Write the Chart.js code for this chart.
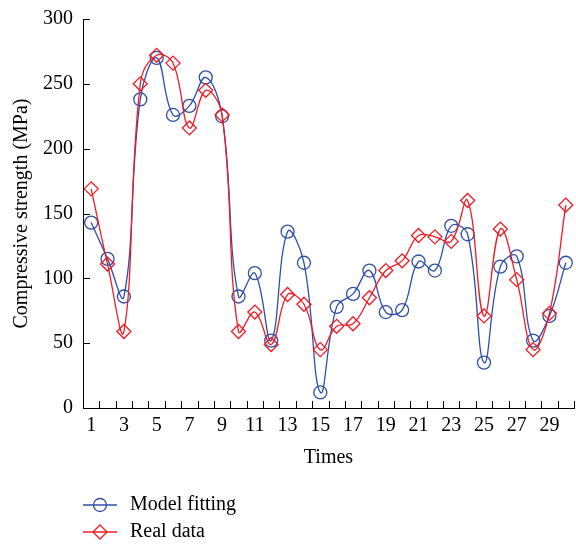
<!DOCTYPE html>
<html>
<head>
<meta charset="utf-8">
<script src="https://cdn.jsdelivr.net/npm/chart.js@4.4.1/dist/chart.umd.min.js"></script>
<style>
  html, body { margin: 0; padding: 0; background: #fff; }
  #wrap { width: 576px; height: 544px; }
</style>
</head>
<body>
<div id="wrap"><canvas id="chart" width="576" height="544"></canvas></div>
<script>
// values
var times = ['1','2','3','4','5','6','7','8','9','10','11','12','13','14','15',
             '16','17','18','19','20','21','22','23','24','25','26','27','28','29','30'];
var modelFitting = [143, 115, 86, 238, 270, 226, 233, 255, 225, 86,
                    104, 52, 136, 112, 12, 78, 88, 106, 74, 75.5,
                    113, 106, 140.5, 134, 35, 109, 117, 52, 71, 112];
var realData = [169, 111, 59, 250, 272, 266, 216, 245, 226, 59,
                74, 49, 87.5, 80, 45, 63, 65, 85, 106, 113.5,
                133, 132, 128.5, 160, 71, 138, 99, 45, 73, 156.5];
var yTicks = [0, 50, 100, 150, 200, 250, 300];

var blue = '#2f4fa6';
var red = '#ee1c25';
var serif = "'Liberation Serif', 'DejaVu Serif', serif";

// tick marks pointing into the plot, like the original
var innerTicks = {
    id: 'innerTicks',
    afterDraw: function(chart) {
        var ctx = chart.ctx;
        var xs = chart.scales.x, ys = chart.scales.y;
        var len = 7;
        ctx.save();
        ctx.strokeStyle = '#000';
        ctx.lineWidth = 1;
        ctx.beginPath();
        for (var i = 0; i < times.length; i++) {
            var px = Math.round(xs.getPixelForValue(i + 0.5)) + 0.5;
            ctx.moveTo(px, ys.bottom);
            ctx.lineTo(px, ys.bottom - len);
        }
        yTicks.forEach(function(v) {
            var py = Math.round(ys.getPixelForValue(v)) + 0.5;
            ctx.moveTo(xs.left, py);
            ctx.lineTo(xs.left + len, py);
        });
        ctx.stroke();
        ctx.restore();
    }
};

// stacked legend under the axis title
var stackedLegend = {
    id: 'stackedLegend',
    afterDraw: function(chart) {
        var ctx = chart.ctx;
        var left = chart.chartArea.left;
        var rows = [chart.height - 39, chart.height - 12];
        ctx.save();
        chart.data.datasets.forEach(function(ds, i) {
            var y = rows[i];
            var cx = left + 17;
            ctx.strokeStyle = ds.borderColor;
            ctx.lineWidth = 1.3;
            ctx.beginPath();
            ctx.moveTo(left, y);
            ctx.lineTo(left + 34, y);
            ctx.stroke();
            ctx.beginPath();
            if (ds.pointStyle === 'circle') {
                ctx.arc(cx, y, ds.pointRadius, 0, Math.PI * 2);
            } else {
                var r = ds.pointRadius;
                ctx.moveTo(cx, y - r);
                ctx.lineTo(cx + r, y);
                ctx.lineTo(cx, y + r);
                ctx.lineTo(cx - r, y);
                ctx.closePath();
            }
            ctx.stroke();
            ctx.fillStyle = '#000';
            ctx.font = '20px ' + serif;
            ctx.textAlign = 'left';
            ctx.textBaseline = 'middle';
            ctx.fillText(ds.label, left + 47, y);
        });
        ctx.restore();
    }
};

var chartData = {
    labels: times,
    datasets: [
        {
            label: 'Model fitting',
            data: modelFitting,
            borderColor: blue,
            backgroundColor: 'transparent',
            borderWidth: 1.3,
            pointStyle: 'circle',
            pointRadius: 6.5,
            pointBorderWidth: 1.3,
            pointBorderColor: blue,
            pointBackgroundColor: 'transparent',
            tension: 0.4,
            order: 1
        },
        {
            label: 'Real data',
            data: realData,
            borderColor: red,
            backgroundColor: 'transparent',
            borderWidth: 1.3,
            pointStyle: 'rectRot',
            pointRadius: 7,
            pointBorderWidth: 1.3,
            pointBorderColor: red,
            pointBackgroundColor: 'transparent',
            tension: 0.4,
            order: 0
        }
    ]
};

new Chart(document.getElementById('chart'), {
    type: 'line',
    data: chartData,
    plugins: [innerTicks, stackedLegend],
    options: {
        responsive: false,
        animation: false,
        layout: { autoPadding: false, padding: { left: 0, right: 2, top: 19, bottom: 74 } },
        plugins: {
            legend: { display: false },
            tooltip: { enabled: false }
        },
        scales: {
            x: {
                type: 'category',
                offset: true,
                grid: { display: false, drawTicks: false, offset: true },
                border: { display: true, color: '#000', width: 1 },
                ticks: {
                    autoSkip: false,
                    maxRotation: 0,
                    padding: 6,
                    color: '#000',
                    font: { family: serif, size: 20 },
                    callback: function(v, i) { return i % 2 === 0 ? times[i] : ''; }
                },
                title: {
                    display: true,
                    text: 'Times',
                    color: '#000',
                    font: { family: serif, size: 20 },
                    padding: { top: 0, bottom: 0 }
                },
                afterFit: function(s) {
                    s.height = 62;
                    s.paddingLeft = 0;
                    s.paddingRight = 0;
                }
            },
            y: {
                min: 0,
                max: 300,
                afterBuildTicks: function(s) { s.ticks = yTicks.map(function(v) { return { value: v }; }); },
                grid: { display: false, drawTicks: false },
                border: { display: true, color: '#000', width: 1 },
                ticks: {
                    padding: 10,
                    color: '#000',
                    font: { family: serif, size: 20 }
                },
                title: {
                    display: true,
                    text: 'Compressive strength (MPa)',
                    color: '#000',
                    font: { family: serif, size: 20 },
                    padding: { top: 10, bottom: 0 }
                },
                afterFit: function(s) {
                    s.width = 83;
                    s.paddingTop = 0;
                    s.paddingBottom = 0;
                }
            }
        }
    }
});
</script>
</body>
</html>
